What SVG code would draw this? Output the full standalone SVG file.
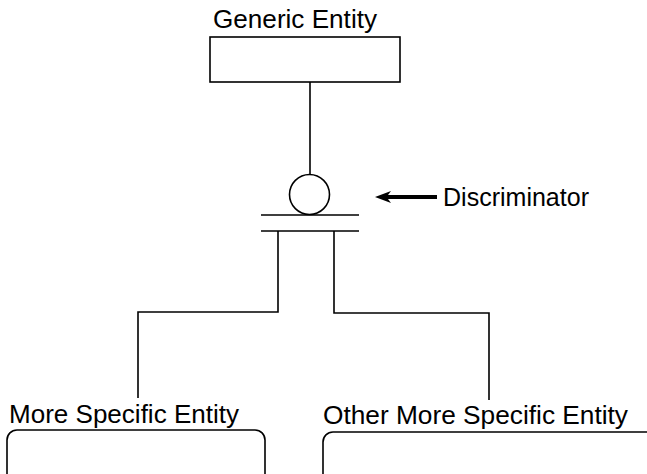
<svg xmlns="http://www.w3.org/2000/svg" width="647" height="474" viewBox="0 0 647 474">
<style>
.ln{fill:none;stroke:#000;stroke-width:1.6}
.box{fill:#fff;stroke:#000;stroke-width:1.6}
.t{font-family:"Liberation Sans",Arial,sans-serif;font-size:25px;fill:#000}
</style>
<rect width="647" height="474" fill="#fff"/>
<g id="connectors">
<path class="ln" d="M310,82 V174"/>
<path class="ln" d="M261,215 H359 M261,231 H359"/>
<path class="ln" d="M278,231 V312 H138 V398"/>
<path class="ln" d="M334,231 V313 H489 V400"/>
<path d="M375,197 L391,191 L388,195 H437 V199 H388 L391,203 Z" fill="#000"/>
</g>
<g id="generic">
<rect class="box" x="210" y="37" width="190" height="45"/>
<text class="t" x="213" y="28" textLength="164" lengthAdjust="spacingAndGlyphs">Generic Entity</text>
</g>
<g id="discriminator">
<circle class="ln" cx="309.5" cy="194.5" r="20"/>
<text class="t" x="443" y="206" textLength="146" lengthAdjust="spacingAndGlyphs">Discriminator</text>
</g>
<g id="specific1">
<rect class="box" x="7" y="430" width="258" height="70" rx="10"/>
<text class="t" x="9" y="423" textLength="230" lengthAdjust="spacingAndGlyphs">More Specific Entity</text>
</g>
<g id="specific2">
<rect class="box" x="323" y="432" width="340" height="70" rx="10"/>
<text class="t" x="323" y="424" textLength="305" lengthAdjust="spacingAndGlyphs">Other More Specific Entity</text>
</g>
</svg>
